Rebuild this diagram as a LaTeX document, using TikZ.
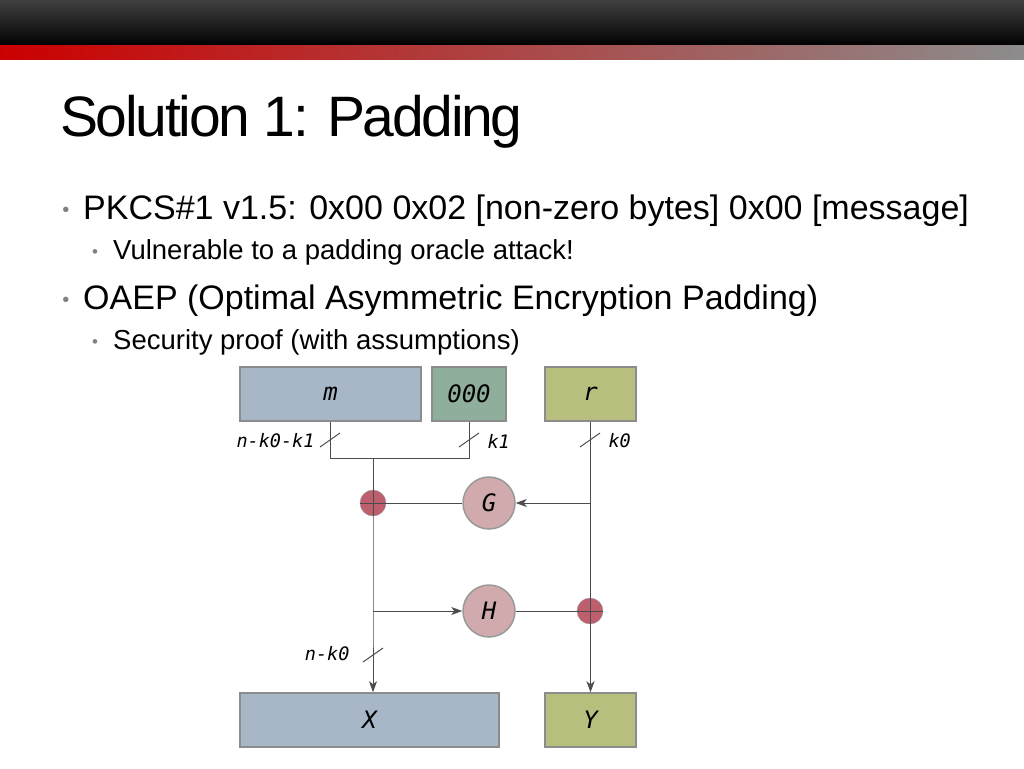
\documentclass[tikz,border=0pt]{standalone}
\usetikzlibrary{arrows.meta}
\usepackage{fontspec}
\setmainfont{Liberation Sans}
\newfontfamily\dv{DejaVu Sans Mono}
\begin{document}
\begin{tikzpicture}[x=1pt,y=-1pt,
  box/.style={draw=black!45,line width=1.5pt,minimum height=54pt,font=\dv\itshape\fontsize{24}{24}\selectfont},
  xorc/.style={circle,draw=black!40,fill={rgb,255:red,190;green,95;blue,110},minimum size=26pt,inner sep=0pt},
  fun/.style={circle,draw=black!40,line width=1.5pt,fill={rgb,255:red,208;green,170;blue,172},minimum size=52pt,inner sep=0pt,font=\dv\itshape\fontsize{24}{24}\selectfont},
  ln/.style={draw=black!70,line width=1pt},
  arr/.style={ln,-{Stealth[length=11pt,width=8pt,inset=3pt]}},
  lab/.style={font=\dv\itshape\fontsize{18.5}{18.5}\selectfont}]
\useasboundingbox (0,0) rectangle (1024,768);
\shade[top color=black!75,bottom color=black] (0,0) rectangle (1024,46);
\shade[left color=red!80!black,right color=gray!90] (0,46) rectangle (1024,59);
\node[anchor=base west,inner sep=0,font=\fontsize{57}{57}\selectfont] (title) at (60,136) {\addfontfeature{LetterSpace=-4}Solution 1: Padding};
\node[anchor=base west,inner sep=0,font=\fontsize{34}{34}\selectfont] (b1) at (83,219) {PKCS\#1 v1.5: 0x00 0x02 [non-zero bytes] 0x00 [message]};
\node[anchor=base west,inner sep=0,font=\fontsize{27.5}{28}\selectfont] (b2) at (113,259) {Vulnerable to a padding oracle attack!};
\node[anchor=base west,inner sep=0,font=\fontsize{34}{34}\selectfont] (b3) at (83,309) {OAEP (Optimal Asymmetric Encryption Padding)};
\node[anchor=base west,inner sep=0,font=\fontsize{27.5}{28}\selectfont] (b4) at (113,349) {Security proof (with assumptions)};
\node[gray,font=\fontsize{20}{20}\selectfont,anchor=base] (d1) at (66,216) {•};
\node[gray,font=\fontsize{17}{17}\selectfont,anchor=base] (d2) at (95,257) {•};
\node[gray,font=\fontsize{20}{20}\selectfont,anchor=base] (d3) at (66,306) {•};
\node[gray,font=\fontsize{17}{17}\selectfont,anchor=base] (d4) at (95,347) {•};
\node[box,fill={rgb,255:red,167;green,183;blue,200},minimum width=181pt] (m) at (330.5,394) {m};
\node[box,fill={rgb,255:red,143;green,174;blue,156},minimum width=74pt] (z) at (469,394) {000};
\node[box,fill={rgb,255:red,184;green,190;blue,126},minimum width=91pt] (r) at (590.5,394) {r};
\node[box,fill={rgb,255:red,167;green,183;blue,200},minimum width=259pt] (X) at (369.5,720) {X};
\node[box,fill={rgb,255:red,184;green,190;blue,126},minimum width=91pt] (Y) at (590.5,720) {Y};
\node[xorc] (x1) at (373,503) {};
\node[xorc] (x2) at (590,611) {};
\node[fun] (G) at (489,503) {G};
\node[fun] (H) at (489,611) {H};
\coordinate (j1) at (330,458);
\coordinate (j2) at (469,458);
\coordinate (jc) at (373,458);
\coordinate (jr) at (590,503);
\coordinate (jh) at (373,611);
\draw[ln] (m.south -| j1) -- (j1) -- (j2) -- (z.south -| j2);
\draw[ln] (jc) -- (x1);
\draw[arr] (x1) -- (jh) -- (X.north -| jh);
\draw[ln] (x1.west) -- (x1.east);
\draw[ln] (x1.north) -- (x1.south);
\draw[ln] (x1) -- (G);
\draw[arr] (jr) -- (G);
\draw[arr] (jh) -- (H);
\draw[ln] (H) -- (x2);
\draw[ln] (x2.west) -- (x2.east);
\draw[arr] (r.south) -- (Y.north);
\foreach \px/\py in {330/440,469/440,590/440,373/655}
  \draw[ln] (\px-10,\py+7) -- (\px+10,\py-7);
\node[lab,anchor=east] (l1) at (318,441) {n-k0-k1};
\node[lab,anchor=west] (l2) at (484,441) {k1};
\node[lab,anchor=west] (l3) at (605,441) {k0};
\node[lab,anchor=east] (l4) at (353,654) {n-k0};
\end{tikzpicture}
\end{document}
